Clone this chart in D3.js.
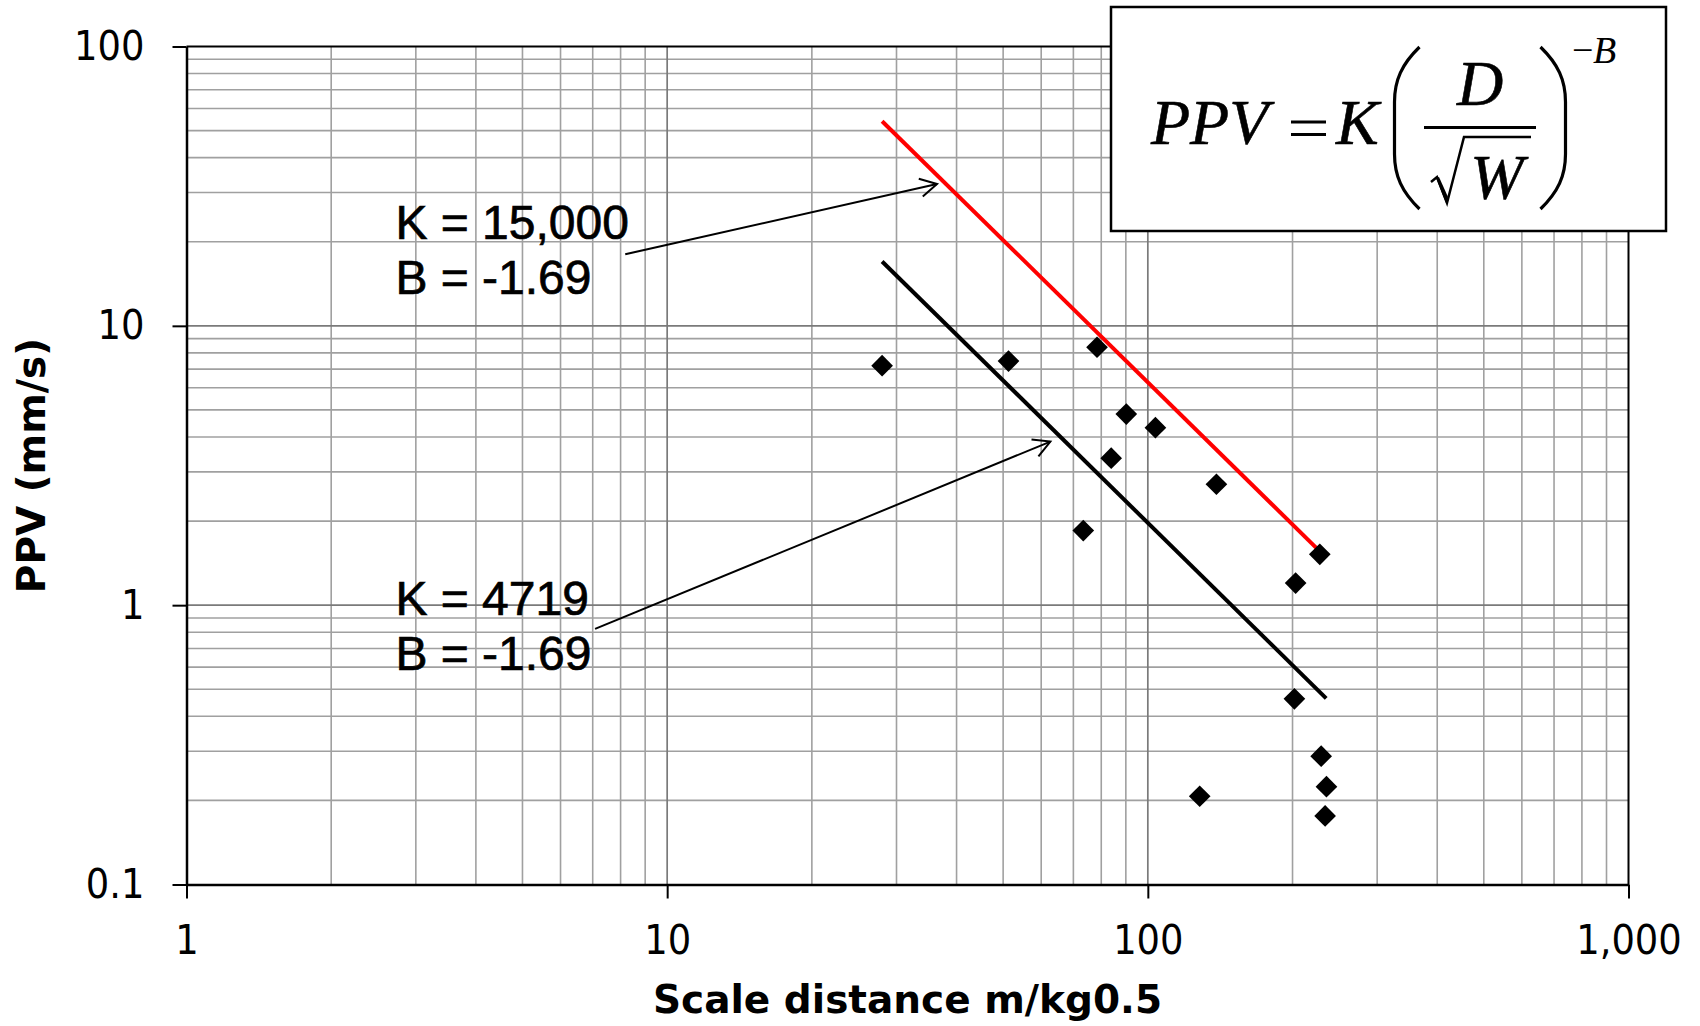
<!DOCTYPE html>
<html>
<head>
<meta charset="utf-8">
<script src="https://cdn.jsdelivr.net/npm/d3@7"></script>
<style>
  html, body { margin: 0; padding: 0; background: #fff; }
  svg { display: block; }
</style>
</head>
<body>
<svg id="chart" width="1700" height="1026"></svg>
<script>
// ---------------- data ----------------
const xTickValues = [1, 10, 100, 1000];
const xTickLabels = ["1", "10", "100", "1,000"];
const yTickValues = [0.1, 1, 10, 100];
const yTickLabels = ["0.1", "1", "10", "100"];

// measured points: scale distance (m/kg^0.5) and PPV (mm/s)
const pointX = [28.0, 51.3, 78.4, 90.2, 103.7, 83.9, 138.9, 73.4, 227.9, 203, 201.8, 229.4, 235.3, 233.8, 128.2];
const pointY = [7.20, 7.48, 8.38, 4.83, 4.32, 3.36, 2.71, 1.85, 1.52, 1.20, 0.462, 0.288, 0.224, 0.176, 0.207];

// fitted lines (end points)
const upperLineX = [28, 235];
const upperLineY = [54.0, 1.48];
const lowerLineX = [28, 235];
const lowerLineY = [17.0, 0.464];

// annotations (data coordinates)
const annoUpper = { lines: ["K = 15,000", "B = -1.69"], x: 2.72, y: 20.5 };
const annoLower = { lines: ["K = 4719", "B = -1.69"], x: 2.72, y: 0.924 };
const arrowUpper = { from: [8.18, 18.04], to: [36.43, 32.2] };
const arrowLower = { from: [7.08, 0.822], to: [62.7, 3.85] };

const xTitle = "Scale distance m/kg0.5";
const yTitle = "PPV (mm/s)";

// ---------------- layout ----------------
const svg = d3.select("#chart");
const plotL = 186.5, plotR = 1628.5, plotT = 46.5, plotB = 884.5;

const x = d3.scaleLog().domain([1, 1000]).range([plotL, plotR]);
const y = d3.scaleLog().domain([0.1, 100]).range([plotB, plotT]);

svg.append("rect").attr("width", 1700).attr("height", 1026).attr("fill", "#fff");

const isPow10 = v => Math.abs(Math.log10(v) - Math.round(Math.log10(v))) < 1e-9;

// gridlines
const grid = svg.append("g");
const xMinor = x.ticks().filter(v => !isPow10(v));
const yMinor = y.ticks().filter(v => !isPow10(v));
grid.selectAll(".xminor").data(xMinor).join("line")
  .attr("x1", d => x(d)).attr("x2", d => x(d)).attr("y1", plotT).attr("y2", plotB)
  .attr("stroke", "#a0a0a0").attr("stroke-width", 1.6);
grid.selectAll(".yminor").data(yMinor).join("line")
  .attr("y1", d => y(d)).attr("y2", d => y(d)).attr("x1", plotL).attr("x2", plotR)
  .attr("stroke", "#a0a0a0").attr("stroke-width", 1.6);
grid.selectAll(".xmajor").data([10, 100]).join("line")
  .attr("x1", d => x(d)).attr("x2", d => x(d)).attr("y1", plotT).attr("y2", plotB)
  .attr("stroke", "#7a7a7a").attr("stroke-width", 1.7);
grid.selectAll(".ymajor").data([1, 10]).join("line")
  .attr("y1", d => y(d)).attr("y2", d => y(d)).attr("x1", plotL).attr("x2", plotR)
  .attr("stroke", "#7a7a7a").attr("stroke-width", 1.7);

// frame top/right
svg.append("line").attr("x1", plotL).attr("x2", plotR).attr("y1", plotT).attr("y2", plotT)
  .attr("stroke", "#000").attr("stroke-width", 2);
svg.append("line").attr("x1", plotR).attr("x2", plotR).attr("y1", plotT).attr("y2", plotB)
  .attr("stroke", "#000").attr("stroke-width", 2);

// axes
const tickFont = "'DejaVu Sans Condensed', 'DejaVu Sans', sans-serif";
const xAxis = d3.axisBottom(x).tickValues(xTickValues)
  .tickFormat((d, i) => xTickLabels[i]).tickSize(14).tickSizeOuter(0).tickPadding(26);
const yAxis = d3.axisLeft(y).tickValues(yTickValues)
  .tickFormat((d, i) => yTickLabels[i]).tickSize(14).tickSizeOuter(0).tickPadding(28);

const gx = svg.append("g").attr("transform", `translate(0,${plotB})`).call(xAxis);
const gy = svg.append("g").attr("transform", `translate(${plotL},0)`).call(yAxis);
[gx, gy].forEach(g => {
  g.select(".domain").attr("stroke", "#000").attr("stroke-width", 2.5);
  g.selectAll(".tick line").attr("stroke", "#000").attr("stroke-width", 2);
  g.selectAll(".tick text").attr("fill", "#000")
    .style("font-family", tickFont).style("font-stretch", "condensed").style("font-size", "41px");
});

// axis titles
svg.append("text").text(xTitle)
  .attr("x", (plotL + plotR) / 2).attr("y", 1013)
  .attr("text-anchor", "middle")
  .style("font-family", "'DejaVu Sans', Verdana, sans-serif")
  .style("font-weight", "bold").style("font-size", "39px");
svg.append("text").text(yTitle)
  .attr("transform", `translate(45,${(plotT + plotB) / 2}) rotate(-90)`)
  .attr("text-anchor", "middle")
  .style("font-family", "'DejaVu Sans', Verdana, sans-serif")
  .style("font-weight", "bold").style("font-size", "39px");

// fitted lines
const line = d3.line().x(d => x(d[0])).y(d => y(d[1]));
svg.append("path").datum(upperLineX.map((v, i) => [v, upperLineY[i]]))
  .attr("d", line).attr("stroke", "#ff0000").attr("stroke-width", 4).attr("fill", "none");
svg.append("path").datum(lowerLineX.map((v, i) => [v, lowerLineY[i]]))
  .attr("d", line).attr("stroke", "#000").attr("stroke-width", 4).attr("fill", "none");

// points
const diamond = d3.symbol().type(d3.symbolSquare).size(235);
svg.append("g").selectAll("path").data(pointX.map((v, i) => [v, pointY[i]])).join("path")
  .attr("d", diamond)
  .attr("transform", d => `translate(${x(d[0])},${y(d[1])}) rotate(45)`)
  .attr("fill", "#000");

// annotations
function drawAnno(a) {
  const t = svg.append("text")
    .attr("x", x(a.x)).attr("y", y(a.y))
    .style("font-family", "'Liberation Sans', Arial, sans-serif")
    .style("font-size", "48px").attr("fill", "#000")
    .attr("stroke", "#000").attr("stroke-width", 0.7);
  a.lines.forEach((s, i) => {
    t.append("tspan").attr("x", x(a.x)).attr("dy", i === 0 ? 0 : 55).text(s);
  });
}
drawAnno(annoUpper);
drawAnno(annoLower);

function drawArrow(a) {
  const x1 = x(a.from[0]), y1 = y(a.from[1]);
  const x2 = x(a.to[0]), y2 = y(a.to[1]);
  const g = svg.append("g").attr("stroke", "#000").attr("stroke-width", 2).attr("fill", "none");
  g.append("line").attr("x1", x1).attr("y1", y1).attr("x2", x2).attr("y2", y2);
  const ang = Math.atan2(y2 - y1, x2 - x1);
  const L = 19, h = 0.5;
  const p1 = [x2 - L * Math.cos(ang - h), y2 - L * Math.sin(ang - h)];
  const p2 = [x2 - L * Math.cos(ang + h), y2 - L * Math.sin(ang + h)];
  g.append("path").attr("d", `M${p1[0]},${p1[1]} L${x2},${y2} L${p2[0]},${p2[1]}`);
}
drawArrow(arrowUpper);
drawArrow(arrowLower);

// formula box
const fb = svg.append("g");
fb.append("rect").attr("x", 1111).attr("y", 7).attr("width", 555).attr("height", 224)
  .attr("fill", "#fff").attr("stroke", "#000").attr("stroke-width", 2.5);
const serif = "'Liberation Serif', 'Times New Roman', serif";
fb.append("text").text("PPV").attr("x", 1151).attr("y", 144)
  .style("font-family", serif).style("font-style", "italic").style("font-size", "64px")
  .attr("stroke", "#000").attr("stroke-width", 0.6);
// equals sign
fb.append("line").attr("x1", 1291).attr("x2", 1326).attr("y1", 122).attr("y2", 122)
  .attr("stroke", "#000").attr("stroke-width", 3.2);
fb.append("line").attr("x1", 1291).attr("x2", 1326).attr("y1", 134.5).attr("y2", 134.5)
  .attr("stroke", "#000").attr("stroke-width", 3.2);
fb.append("text").text("K").attr("x", 1336).attr("y", 144)
  .style("font-family", serif).style("font-style", "italic").style("font-size", "64px")
  .attr("stroke", "#000").attr("stroke-width", 0.6);
fb.append("text").text("D").attr("x", 1480).attr("y", 105).attr("text-anchor", "middle")
  .style("font-family", serif).style("font-style", "italic").style("font-size", "64px")
  .attr("stroke", "#000").attr("stroke-width", 0.6);
fb.append("text").text("W").attr("x", 1497).attr("y", 199).attr("text-anchor", "middle")
  .style("font-family", serif).style("font-style", "italic").style("font-size", "64px")
  .attr("stroke", "#000").attr("stroke-width", 0.6);
fb.append("line").attr("x1", 1424).attr("x2", 1536).attr("y1", 127.5).attr("y2", 127.5)
  .attr("stroke", "#000").attr("stroke-width", 3);
fb.append("path").attr("d", "M1431,182 L1437,177 L1447,203 L1464,137 L1531,137")
  .attr("fill", "none").attr("stroke", "#000").attr("stroke-width", 2.5).attr("stroke-linejoin", "miter");
fb.append("path").attr("d", "M1446,203 L1436,178 L1439,177 L1448,197 Z").attr("fill", "#000");
fb.append("path").attr("d", "M1419.5,47 C1402,64 1394.5,80 1394.5,102 L1394.5,154 C1394.5,176 1402,192 1419.5,209")
  .attr("fill", "none").attr("stroke", "#000").attr("stroke-width", 3.2);
fb.append("path").attr("d", "M1540.5,47 C1558,64 1565.5,80 1565.5,102 L1565.5,154 C1565.5,176 1558,192 1540.5,209")
  .attr("fill", "none").attr("stroke", "#000").attr("stroke-width", 3.2);
fb.append("text").text("\u2212").attr("x", 1572).attr("y", 63)
  .style("font-family", serif).style("font-size", "38px");
fb.append("text").text("B").attr("x", 1593).attr("y", 63)
  .style("font-family", serif).style("font-style", "italic").style("font-size", "38px");
</script>
</body>
</html>
